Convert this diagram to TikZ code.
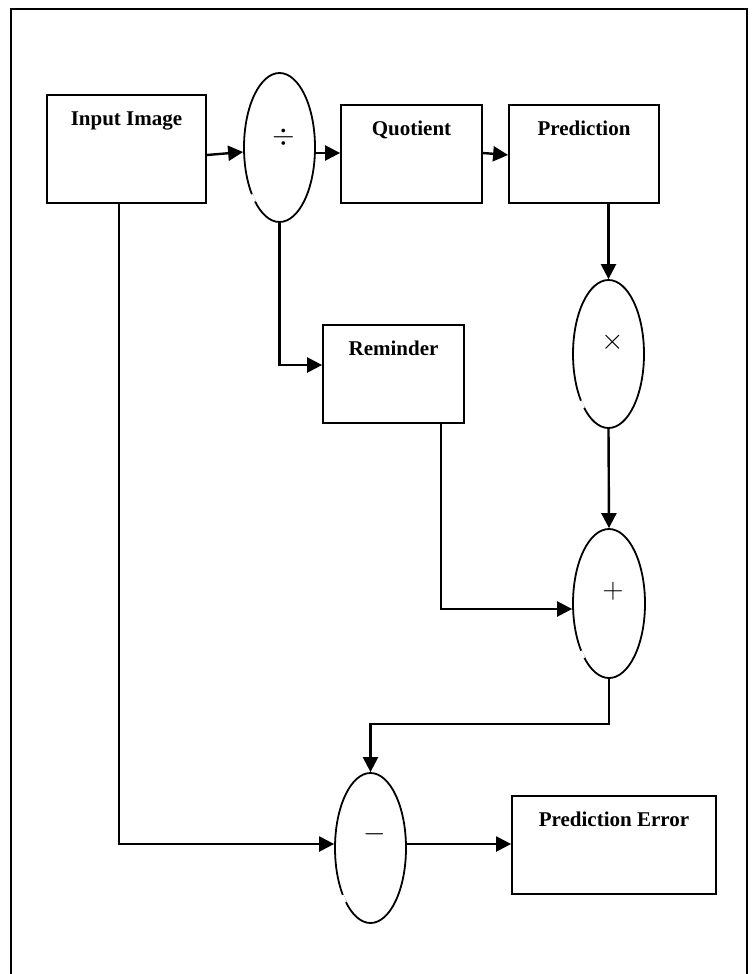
\RequirePackage{fix-cm}
\documentclass[tikz,border=0pt]{standalone}
\usepackage{fontspec}
\setmainfont{Liberation Serif}
\usetikzlibrary{arrows.meta,shapes.geometric}
\begin{document}
\begin{tikzpicture}[x=1pt,y=-1pt,
  box/.style={draw,line width=1.8pt,rectangle,inner sep=0pt},
  oval/.style={draw,line width=1.8pt,ellipse,inner sep=0pt},
  lbl/.style={font=\bfseries\fontsize{21}{25}\selectfont,inner sep=0pt,anchor=base},
  sym/.style={font=\fontsize{29}{31}\selectfont,inner sep=0pt},
  arr/.style={line width=2.4pt,-{Triangle[length=15pt,width=15pt]}},
  gap/.style={white,line width=3.6pt}]
\useasboundingbox (0,0) rectangle (753,974);
% frame
\draw[line width=2pt] (10.5,974) -- (10.5,9.5) -- (746.5,9.5) -- (746.5,974);
% boxes
\node[box,minimum width=159pt,minimum height=108pt] (inp) at (126.5,149) {};
\node[box,minimum width=141pt,minimum height=98pt] (quo) at (411.5,154) {};
\node[box,minimum width=150pt,minimum height=98pt] (pred) at (584,154) {};
\node[box,minimum width=141pt,minimum height=98pt] (rem) at (393.5,374) {};
\node[box,minimum width=204pt,minimum height=98pt] (err) at (614,845) {};
\node[lbl] (inpt) at ([yshift=-31.5pt]inp.north) {Input Image};
\node[lbl] (quot) at ([yshift=-31.5pt]quo.north) {Quotient};
\node[lbl] (predt) at ([yshift=-31.5pt]pred.north) {Prediction};
\node[lbl] (remt) at ([yshift=-31.5pt]rem.north) {Reminder};
\node[lbl] (errt) at ([yshift=-31.5pt]err.north) {Prediction Error};
% ellipses
\node[oval,minimum width=71pt,minimum height=149pt] (div) at (279.5,147.5) {};
\node[oval,minimum width=71pt,minimum height=148pt] (mul) at (608.5,354) {};
\node[oval,minimum width=72pt,minimum height=149pt] (add) at (609,603.5) {};
\node[oval,minimum width=71pt,minimum height=150pt] (sub) at (370.5,848) {};
\foreach \e in {div,mul,add,sub}{\draw[gap] (\e.239) -- (\e.245);}
\node[sym] (divs) at ([xshift=4.5pt,yshift=10.5pt]div.center) {$\div$};
\node[sym] (muls) at ([xshift=4.5pt,yshift=12pt]mul.center) {$\times$};
\node[sym] (adds) at ([xshift=4pt,yshift=12pt]add.center) {$+$};
\node[sym] (subs) at ([xshift=4.5pt,yshift=14pt]sub.center) {$-$};
% connectors
\draw[arr] ([yshift=-6pt]inp.east) -- ([yshift=-4.5pt]div.west);
\draw[arr] ([yshift=-5.5pt]div.east) -- ([yshift=1pt]quo.west);
\draw[arr] ([yshift=1pt]quo.east) -- ([yshift=-1pt]pred.west);
\draw[arr] (pred.south -| mul.north) -- (mul.north);
\draw[arr] (mul.south) -- (add.north);
\draw[arr] (div.south) |- ([yshift=9pt]rem.west);
\draw[arr] ([xshift=47.5pt]rem.south) |- ([yshift=-5.5pt]add.west);
\draw[arr] (add.south) -- ++(0,45) -| (sub.north);
\draw[arr] ([xshift=-7.5pt]inp.south) |- ([yshift=4pt]sub.west);
\draw[arr] ([yshift=4pt]sub.east) -- ([yshift=1pt]err.west);
\end{tikzpicture}
\end{document}
